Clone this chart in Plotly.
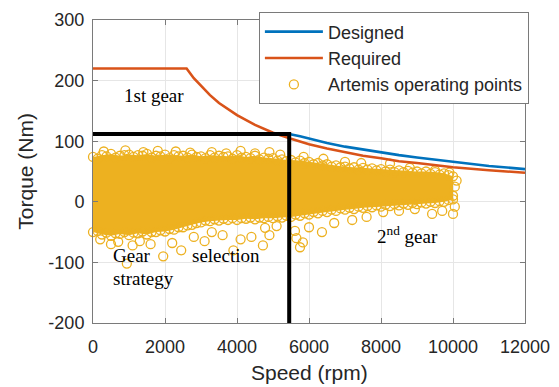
import plotly.graph_objects as go

# ---------------- data ----------------
speed_req = [0, 2600, 2800, 3000, 3250, 3500, 3750, 4000, 4500, 5000, 5500, 6000, 6500,
             7000, 7500, 8000, 8500, 9000, 9500, 10000, 11000, 12000]
torque_req = [220, 220, 204, 191, 176, 163, 153, 143, 127, 114, 104, 95, 88,
              82, 76, 72, 67, 64, 60, 57, 52, 48]

speed_des = [0, 5450, 5750, 6000, 6500, 7000, 7500, 8000, 8500, 9000, 9500, 10000, 11000, 12000]
torque_des = [112, 112, 108, 104, 97, 91, 86, 81, 77, 73, 69, 66, 59, 54]

limit_x = [0, 5450, 5450]
limit_y = [112, 112, -200]

# envelope of the dense cloud of operating points
env_x = [0, 250, 500, 750, 1000, 1250, 1500, 1750, 2000, 2250, 2500, 2750, 3000, 3250,
         3500, 3750, 4000, 4250, 4500, 4750, 5000, 5250, 5500, 5750, 6000, 6250, 6500,
         6750, 7000, 7250, 7500, 7750, 8000, 8250, 8500, 8750, 9000, 9250, 9500, 9750, 10000]
env_top = [74, 77, 79, 76, 78, 77, 79, 76, 78, 77, 76, 78, 75, 77, 76, 75, 77, 74, 76, 73,
           72, 70, 69, 68, 66, 64, 62, 60, 58, 57, 56, 55, 54, 53, 52, 51, 50, 50, 49, 47, 42]
env_bot = [-50, -54, -56, -53, -55, -52, -54, -50, -49, -46, -42, -38, -34, -32, -31, -30,
           -30, -28, -29, -27, -27, -26, -25, -23, -21, -19, -17, -15, -13, -12, -10, -9,
           -8, -7, -6, -5, -4, -3, -2, 0, 4]

# second row of edge points, between the envelope points
mid_x = [125, 375, 625, 875, 1125, 1375, 1625, 1875, 2125, 2375, 2625, 2875, 3125, 3375,
         3625, 3875, 4125, 4375, 4625, 4875, 5125, 5375, 5625, 5875, 6125, 6375, 6625,
         6875, 7125, 7375, 7625, 7875, 8125, 8375, 8625, 8875, 9125, 9375, 9625, 9875]
mid_top = [71, 75, 73, 77, 74, 76, 73, 75, 72, 75, 73, 74, 72, 73, 74, 71, 73, 72, 70, 71,
           68, 67, 65, 64, 62, 60, 58, 57, 55, 53, 53, 52, 50, 49, 49, 48, 47, 46, 45, 44]
mid_bot = [-48, -51, -52, -50, -51, -49, -50, -47, -45, -42, -39, -35, -31, -29, -28, -27,
           -27, -26, -26, -25, -24, -23, -21, -19, -17, -15, -13, -11, -10, -8, -7, -6,
           -5, -4, -3, -2, -1, 0, 1, 3]

# scattered operating points outside the dense core
out_x = [300, 900, 1400, 1800, 2300, 2700, 3300, 3700, 4100, 4500, 4900, 5200, 5850, 6400,
         7000, 7450, 8250, 8800, 9500, 9900,
         200, 500, 700, 940, 1100, 1300, 1600, 1950, 2200, 2450, 2800, 3100, 3300, 3600,
         3900, 4100, 4400, 4720, 4780, 5100, 4900, 5610, 5750, 5830, 5650, 6000, 6360,
         6700, 7200, 7600, 8060, 8500, 8940, 9420, 9700, 10000, 10050, 10000, 10050, 10100]
out_y = [83, 85, 82, 84, 83, 81, 82, 80, 84, 80, 82, 78, 74, 71,
         66, 64, 63, 56, 52, 48,
         -62, -70, -66, -102, -72, -65, -70, -90, -68, -80, -58, -65, -50, -55,
         -80, -62, -58, -72, -43, -40, -55, -48, -75, -67, -60, -42, -50,
         -35, -30, -25, -17, -15, -12, -20, -15, -20, -8, 10, 25, 35]

pts_x = env_x + env_x + mid_x + mid_x + out_x
pts_y = env_top + env_bot + mid_top + mid_bot + out_y

x_ticks = [0, 2000, 4000, 6000, 8000, 10000, 12000]
x_tick_labels = ["0", "2000", "4000", "6000", "8000", "10000", "12000"]
y_ticks = [-200, -100, 0, 100, 200, 300]
y_tick_labels = ["-200", "-100", "0", "100", "200", "300"]

# ---------------- styles ----------------
YEL = "#EDB120"
BLUE = "#0072BD"
RED = "#D95319"
SANS = "Liberation Sans, Arial, sans-serif"
SERIF = "Liberation Serif, Times New Roman, serif"
AXC = "#7a7a7a"
TXT = "#262626"

fig = go.Figure()

fig.add_trace(go.Scatter(
    x=env_x + env_x[::-1], y=env_top + env_bot[::-1],
    fill="toself", fillcolor=YEL, mode="none",
    showlegend=False, hoverinfo="skip"))

fig.add_trace(go.Scatter(
    x=pts_x, y=pts_y, mode="markers", name="Artemis operating points",
    marker=dict(symbol="circle-open", size=9, color=YEL, line=dict(width=1.3, color=YEL)),
    cliponaxis=False, legendrank=3))

fig.add_trace(go.Scatter(
    x=speed_req, y=torque_req, mode="lines", name="Required",
    line=dict(color=RED, width=2.6), legendrank=2))

fig.add_trace(go.Scatter(
    x=speed_des, y=torque_des, mode="lines", name="Designed",
    line=dict(color=BLUE, width=2.6), legendrank=1))

fig.add_trace(go.Scatter(
    x=limit_x, y=limit_y, mode="lines", showlegend=False,
    line=dict(color="black", width=4)))

axis_common = dict(
    showline=True, linecolor=AXC, linewidth=1, mirror="ticks",
    ticks="inside", ticklen=5, tickcolor=AXC, automargin=False,
    showgrid=True, gridcolor="#E6E6E6", gridwidth=1, zeroline=False,
    tickfont=dict(family=SANS, size=18, color=TXT))

fig.update_xaxes(range=[0, 12000], tickvals=x_ticks, ticktext=x_tick_labels,
                 ticklabelstandoff=7, **axis_common)
fig.update_yaxes(range=[-200, 300], tickvals=y_ticks, ticktext=y_tick_labels,
                 ticklabelstandoff=4, **axis_common)

annotations = [
    dict(text="Speed (rpm)", x=0.5, y=-0.165, xref="paper", yref="paper",
         showarrow=False, font=dict(family=SANS, size=21, color=TXT),
         xanchor="center", yanchor="middle"),
    dict(text="Torque (Nm)", x=-0.157, y=0.5, xref="paper", yref="paper",
         showarrow=False, textangle=-90, font=dict(family=SANS, size=21, color=TXT),
         xanchor="center", yanchor="middle"),
    dict(text="1st gear", x=1690, y=176, showarrow=False,
         font=dict(family=SERIF, size=19, color="black"), xanchor="center", yanchor="middle"),
    dict(text="Gear", x=500, y=-88, showarrow=False,
         font=dict(family=SERIF, size=19, color="black"), xanchor="left", yanchor="middle"),
    dict(text="strategy", x=500, y=-127, showarrow=False,
         font=dict(family=SERIF, size=19, color="black"), xanchor="left", yanchor="middle"),
    dict(text="selection", x=2690, y=-88, showarrow=False,
         font=dict(family=SERIF, size=19, color="black"), xanchor="left", yanchor="middle"),
    dict(text="2<sup>nd</sup> gear", x=7830, y=-55, showarrow=False,
         font=dict(family=SERIF, size=19, color="black"), xanchor="left", yanchor="middle"),
]

fig.update_layout(
    width=559, height=387,
    margin=dict(l=93, r=34, t=20, b=64, autoexpand=False),
    paper_bgcolor="white", plot_bgcolor="white",
    font=dict(family=SANS, color=TXT),
    annotations=annotations,
    legend=dict(x=0.384, y=1.025, xanchor="left", yanchor="top",
                bgcolor="white", bordercolor=AXC, borderwidth=1,
                font=dict(family=SANS, size=18, color=TXT),
                tracegroupgap=0, itemwidth=58),
)

fig.write_html("out.html", config={"displayModeBar": False},
               post_script="document.body.style.margin='0';document.body.style.overflow='hidden';")
